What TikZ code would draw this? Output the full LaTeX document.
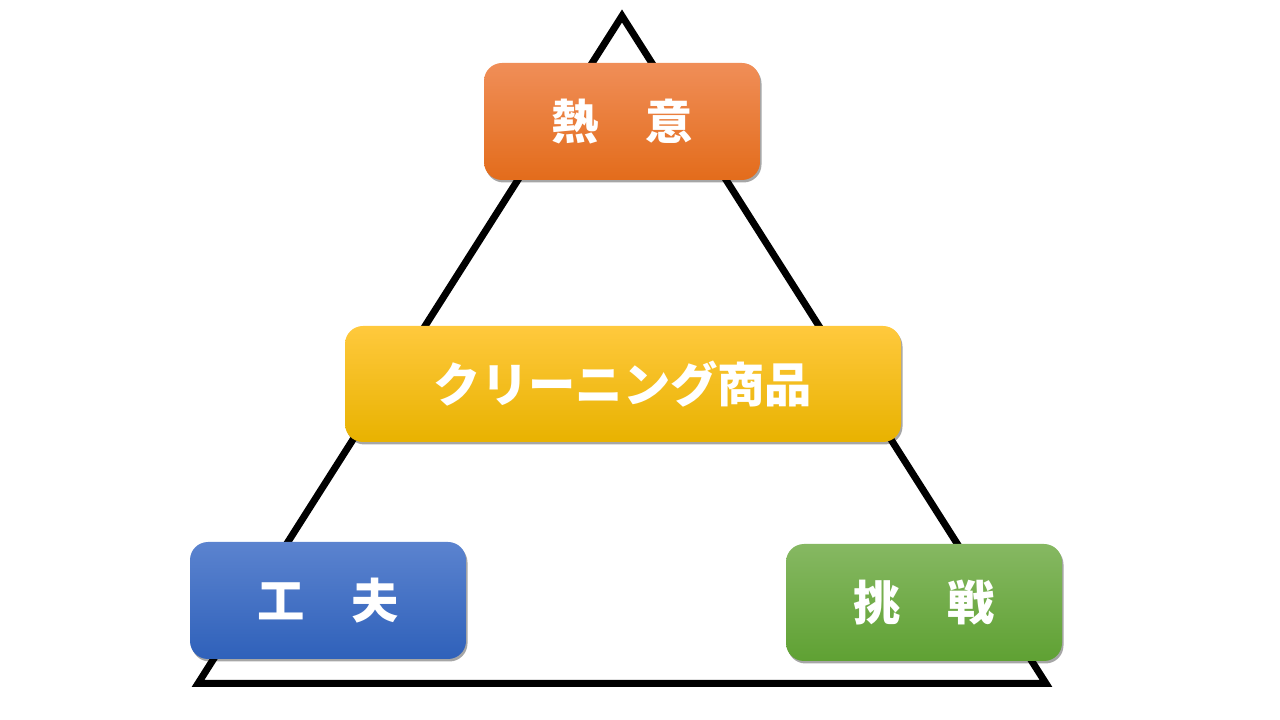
\documentclass[tikz,border=0pt]{standalone}
\usepackage{fontspec}
\newfontfamily\jpfont{Noto Sans CJK JP}
\usetikzlibrary{shadows}
\definecolor{orangetop}{HTML}{F08E58}
\definecolor{orangemid}{HTML}{F47D2B}
\definecolor{orangebot}{HTML}{E36C1B}
\definecolor{yellowtop}{HTML}{FFC93D}
\definecolor{yellowmid}{HTML}{FFC300}
\definecolor{yellowbot}{HTML}{E8B200}
\definecolor{bluetop}{HTML}{5B83CF}
\definecolor{bluemid}{HTML}{4573CA}
\definecolor{bluebot}{HTML}{2F61BA}
\definecolor{greentop}{HTML}{86B862}
\definecolor{greenmid}{HTML}{72B045}
\definecolor{greenbot}{HTML}{5FA133}
\tikzset{
  box/.style={rectangle,rounded corners=18bp,minimum height=117bp,
    text=white,font=\jpfont\bfseries\fontsize{47.5}{47.5}\selectfont,
    drop shadow={shadow xshift=1.5bp,shadow yshift=-2.5bp,opacity=0.35,fill=black}},
  orangebox/.style={box,top color=orangetop,middle color=orangemid,bottom color=orangebot},
  yellowbox/.style={box,top color=yellowtop,middle color=yellowmid,bottom color=yellowbot},
  bluebox/.style={box,top color=bluetop,middle color=bluemid,bottom color=bluebot},
  greenbox/.style={box,top color=greentop,middle color=greenmid,bottom color=greenbot},
}
\begin{document}
\begin{tikzpicture}[line join=miter]
\useasboundingbox (0bp,0bp) rectangle (1280bp,720bp);
%%
\coordinate (apex) at (622bp,704bp);
\coordinate (left) at (198bp,36.5bp);
\coordinate (right) at (1046bp,36.5bp);
\draw [line width=7bp] (apex) -- (left) -- (right) -- cycle;
%
\node (netsui) at (622bp,598.5bp) [orangebox,minimum width=276bp] {熱　意};
\node (shouhin) at (623bp,336bp) [yellowbox,minimum width=556bp,minimum height=116bp] {クリーニング商品};
\node (kufuu) at (328bp,119.5bp) [bluebox,minimum width=276bp] {工　夫};
\node (chousen) at (924bp,117.5bp) [greenbox,minimum width=276bp] {挑　戦};
%
\end{tikzpicture}
\end{document}
